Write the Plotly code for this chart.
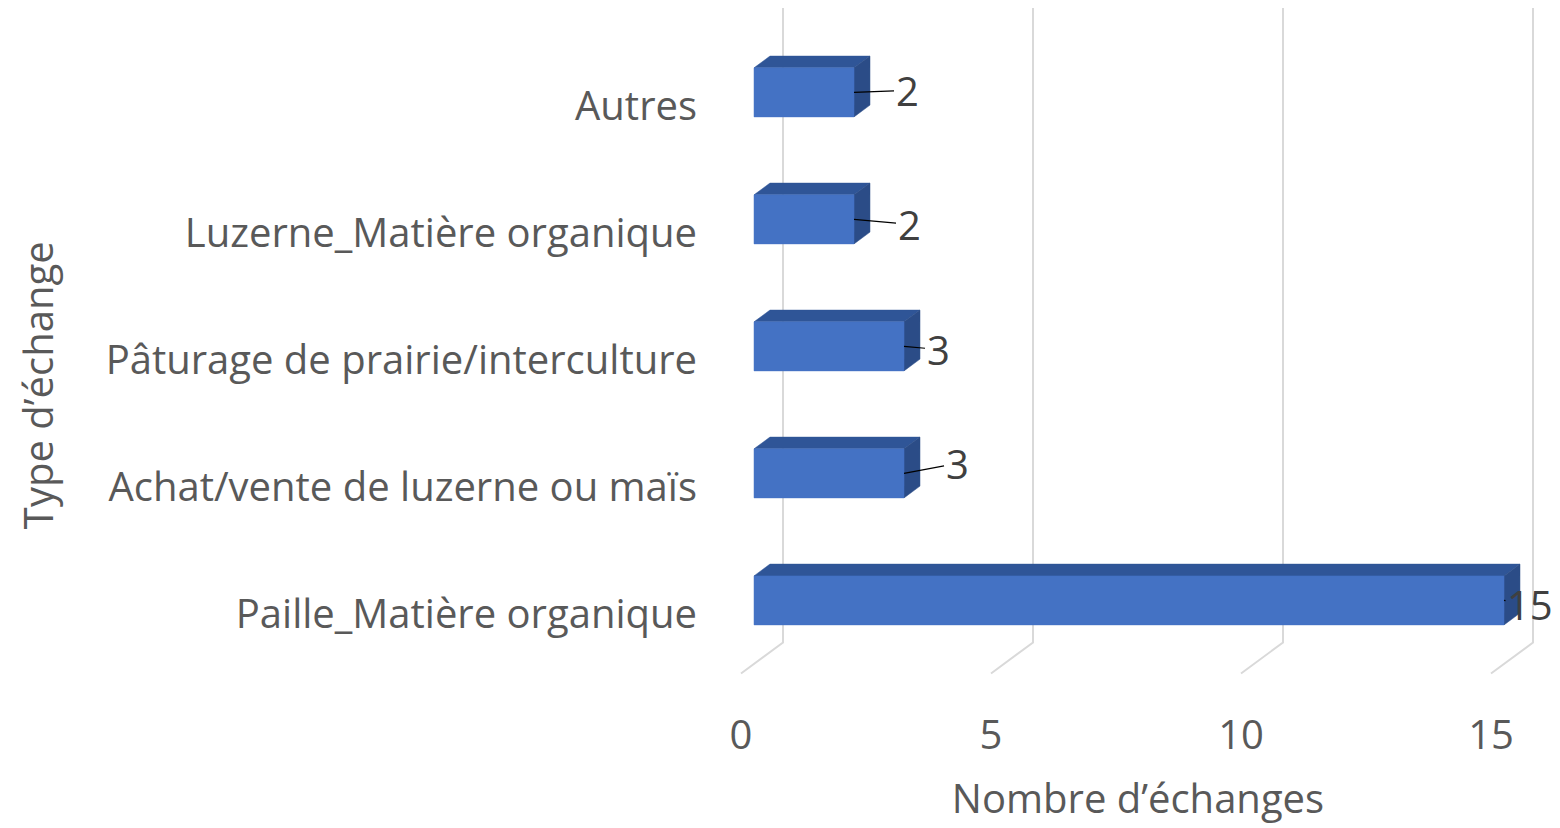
import plotly.graph_objects as go

# Data (bottom to top, as drawn)
categories = [
    "Paille_Matière organique",
    "Achat/vente de luzerne ou maïs",
    "Pâturage de prairie/interculture",
    "Luzerne_Matière organique",
    "Autres",
]
values = [15, 3, 3, 2, 2]
x_ticks = [0, 5, 10, 15]

# 3D look (in axis units): depth of the box and where the bar sits in it
DEPTH_X = 0.84
DEPTH_Y = 0.244
BAR_FRONT = 0.31
BAR_BACK = 0.69
BAR_HALF = 0.193

FRONT = "#4472C4"
TOP = "#2F5597"
SIDE = "#2B4C87"
GRID = "#D9D9D9"
TEXT = "#595959"
FONT = "Open Sans"

# label offsets in px (text relative to bar end), to mimic hand-placed Excel labels
label_offsets = [(26, 4), (53, -10), (34, 3), (55, 5), (53, -2)]

fig = go.Figure()

# back wall gridlines + floor diagonals
n = len(categories)
y_lo, y_hi = -0.5, n - 0.5
for t in x_ticks:
    fig.add_trace(go.Scatter(
        x=[t, t + DEPTH_X, t + DEPTH_X],
        y=[y_lo, y_lo + DEPTH_Y, y_hi + DEPTH_Y],
        mode="lines", line=dict(color=GRID, width=2),
        hoverinfo="skip", showlegend=False,
    ))


def poly(xs, ys, color):
    fig.add_trace(go.Scatter(
        x=xs + [xs[0]], y=ys + [ys[0]],
        mode="lines", fill="toself", fillcolor=color,
        line=dict(color=color, width=0.5),
        hoverinfo="skip", showlegend=False,
    ))


for i, v in enumerate(values):
    x0 = BAR_FRONT * DEPTH_X
    y0 = i + BAR_FRONT * DEPTH_Y
    dx = (BAR_BACK - BAR_FRONT) * DEPTH_X
    dy = (BAR_BACK - BAR_FRONT) * DEPTH_Y
    yb, yt = y0 - BAR_HALF, y0 + BAR_HALF
    x1 = x0 + v
    poly([x0, x1, x1 + dx, x0 + dx], [yt, yt, yt + dy, yt + dy], TOP)
    poly([x1, x1 + dx, x1 + dx, x1], [yb, yb + dy, yt + dy, yt], SIDE)
    poly([x0, x1, x1, x0], [yb, yb, yt, yt], FRONT)

    ax, ay = label_offsets[i]
    fig.add_annotation(
        x=x1, y=y0, text=str(v), showarrow=True, arrowhead=0,
        arrowwidth=1.2, arrowcolor="#000000", ax=ax, ay=ay,
        font=dict(family=FONT, size=40, color="#404040"),
    )

# vertical axis title placed by hand, far left like the original
fig.add_annotation(
    text="Type d’échange", textangle=-90,
    xref="paper", yref="paper", x=-0.817, y=0.455,
    xanchor="center", yanchor="middle", showarrow=False,
    font=dict(family=FONT, size=40, color=TEXT),
)

fig.update_layout(
    width=1552, height=820,
    margin=dict(l=712, r=4, t=0, b=128),
    paper_bgcolor="white", plot_bgcolor="white",
    font=dict(family=FONT, color=TEXT),
    xaxis=dict(
        range=[-0.42, 16.3], tickvals=x_ticks,
        showgrid=False, zeroline=False, showline=False,
        tickfont=dict(size=40, color=TEXT), ticklabelstandoff=8,
        title=dict(text="Nombre d’échanges", font=dict(size=40, color=TEXT), standoff=24),
        fixedrange=True,
    ),
    yaxis=dict(
        range=[-0.7087, 4.74],
        tickvals=list(range(n)), ticktext=categories,
        showgrid=False, zeroline=False, showline=False,
        tickfont=dict(size=40, color=TEXT), ticklabelstandoff=22,
        ticklabelshift=4,
        fixedrange=True,
    ),
)

fig.write_html("out.html")
